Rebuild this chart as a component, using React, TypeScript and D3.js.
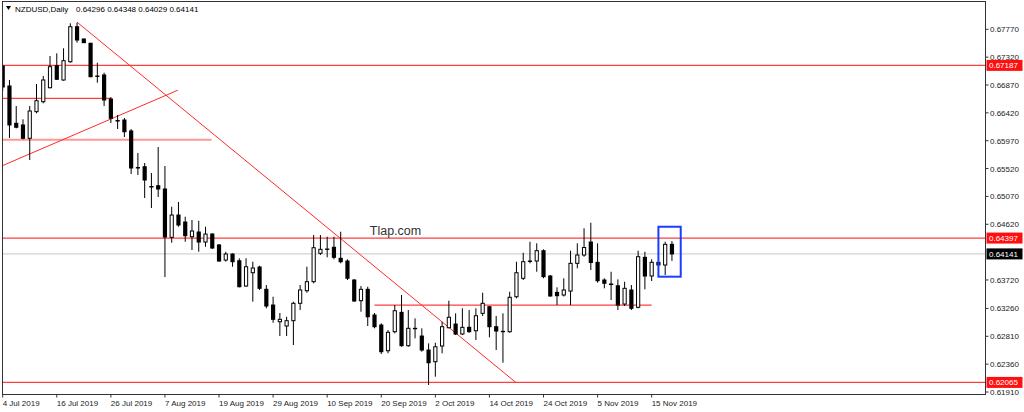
import React from "react";
import * as d3 from "d3";

// NZDUSD daily bars, 4 Jul 2019 .. 20 Nov 2019
const opens = [
  0.67177, 0.66854, 0.66251, 0.66224, 0.66009, 0.66439, 0.666, 0.66826, 0.67182, 0.66951,
  0.67246, 0.67812, 0.67613, 0.67544, 0.67015, 0.67032, 0.66644, 0.66296, 0.66304, 0.66127,
  0.65537, 0.6555, 0.6523, 0.65243, 0.6519, 0.64409, 0.64769, 0.64656, 0.64419, 0.64495,
  0.64333, 0.64462, 0.64285, 0.64042, 0.64139, 0.64031, 0.63622, 0.63837, 0.63929, 0.63569,
  0.63315, 0.63045, 0.62976, 0.63062, 0.63343, 0.63546, 0.63692, 0.64151, 0.6422, 0.64248,
  0.6407, 0.64026, 0.63719, 0.63385, 0.63569, 0.63154, 0.62992, 0.62577, 0.62884, 0.63197,
  0.62658, 0.62939, 0.62814, 0.62588, 0.62399, 0.62653, 0.62948, 0.63008, 0.62847, 0.62955,
  0.629, 0.63181, 0.63288, 0.62965, 0.6289, 0.62884, 0.63449, 0.63747, 0.64026, 0.64026,
  0.64193, 0.63784, 0.6352, 0.63477, 0.63541, 0.63989, 0.64123, 0.64333, 0.64005, 0.63719,
  0.63655, 0.63627, 0.63331, 0.63558, 0.63278, 0.64086, 0.63784, 0.64005, 0.63962, 0.64296,
];
const highs = [
  0.67193, 0.66951, 0.66531, 0.66316, 0.66531, 0.66886, 0.67015, 0.67339, 0.67382, 0.67463,
  0.67867, 0.67877, 0.67621, 0.67552, 0.6723, 0.67069, 0.66676, 0.66385, 0.66337, 0.66159,
  0.65771, 0.6561, 0.65448, 0.65868, 0.65561, 0.64904, 0.6498, 0.64742, 0.64689, 0.64677,
  0.6458, 0.64474, 0.64301, 0.64176, 0.64151, 0.6407, 0.6407, 0.64015, 0.6395, 0.63638,
  0.63449, 0.63186, 0.63126, 0.63369, 0.63638, 0.63934, 0.64446, 0.64446, 0.64419, 0.64419,
  0.645, 0.64054, 0.63735, 0.63622, 0.63611, 0.63186, 0.6302, 0.62911, 0.63315, 0.63477,
  0.63234, 0.631, 0.62939, 0.62696, 0.62706, 0.63045, 0.63385, 0.63181, 0.63262, 0.63234,
  0.63262, 0.63514, 0.63299, 0.63138, 0.63181, 0.6353, 0.64015, 0.6416, 0.64338, 0.64312,
  0.64215, 0.638, 0.63601, 0.63747, 0.64193, 0.64312, 0.64555, 0.64645, 0.64312, 0.63747,
  0.63853, 0.6373, 0.63692, 0.63638, 0.64193, 0.64176, 0.64054, 0.64015, 0.64338, 0.64348,
];
const lows = [
  0.66773, 0.66014, 0.6617, 0.65993, 0.65658, 0.66413, 0.66574, 0.66817, 0.66951, 0.66939,
  0.6723, 0.67554, 0.67549, 0.66995, 0.66907, 0.66531, 0.66256, 0.66159, 0.6603, 0.65432,
  0.65416, 0.65044, 0.64883, 0.6506, 0.63768, 0.64322, 0.6458, 0.64338, 0.64204, 0.64176,
  0.64257, 0.6422, 0.64015, 0.64015, 0.63934, 0.63601, 0.63611, 0.63369, 0.63558, 0.63262,
  0.63029, 0.62814, 0.62814, 0.62669, 0.63234, 0.63514, 0.63666, 0.64123, 0.64086, 0.64054,
  0.63989, 0.63719, 0.63369, 0.63207, 0.62976, 0.62939, 0.62524, 0.62535, 0.62858, 0.62641,
  0.62641, 0.62777, 0.62561, 0.62023, 0.62157, 0.62535, 0.62939, 0.6283, 0.6283, 0.62868,
  0.6275, 0.63138, 0.62793, 0.62588, 0.62383, 0.62868, 0.63424, 0.63719, 0.63989, 0.63853,
  0.63747, 0.63449, 0.63315, 0.63453, 0.63315, 0.63908, 0.64096, 0.63881, 0.63676, 0.63585,
  0.63396, 0.63234, 0.63299, 0.63234, 0.63262, 0.63569, 0.63703, 0.6395, 0.638, 0.64029,
];
const closes = [
  0.66838, 0.66224, 0.66187, 0.66009, 0.6645, 0.66616, 0.66951, 0.67166, 0.66962, 0.67263,
  0.67812, 0.67597, 0.67554, 0.67004, 0.67011, 0.66628, 0.66332, 0.66288, 0.66115, 0.65529,
  0.65529, 0.65335, 0.65222, 0.6519, 0.64414, 0.64769, 0.64608, 0.64435, 0.64511, 0.64333,
  0.64462, 0.64236, 0.64026, 0.64139, 0.64015, 0.63611, 0.63934, 0.63913, 0.63585, 0.63299,
  0.63084, 0.63084, 0.63062, 0.63343, 0.63558, 0.63692, 0.64241, 0.64215, 0.64215, 0.64086,
  0.64015, 0.63747, 0.6338, 0.63569, 0.63126, 0.62965, 0.62561, 0.62874, 0.63223, 0.62658,
  0.62939, 0.62932, 0.62588, 0.62383, 0.62641, 0.62965, 0.63117, 0.62847, 0.62955, 0.62884,
  0.63142, 0.63343, 0.62965, 0.62895, 0.62884, 0.6344, 0.63837, 0.64015, 0.64021, 0.64193,
  0.63773, 0.63461, 0.63466, 0.63558, 0.63989, 0.64123, 0.64244, 0.64002, 0.63708, 0.63666,
  0.63646, 0.63315, 0.63585, 0.63262, 0.64096, 0.63784, 0.64005, 0.63962, 0.64296, 0.64141,
];

// bottom axis labels (bar index -> label)
const dateTickBars = [0, 8, 16, 24, 32, 40, 48, 56, 64, 72, 80, 88, 96];
const dateTickLabels = [
  "4 Jul 2019", "16 Jul 2019", "26 Jul 2019", "7 Aug 2019", "19 Aug 2019", "29 Aug 2019",
  "10 Sep 2019", "20 Sep 2019", "2 Oct 2019", "14 Oct 2019", "24 Oct 2019", "5 Nov 2019", "15 Nov 2019",
];

// right price scale
const priceTicks = [
  0.6777, 0.6732, 0.6687, 0.6642, 0.6597, 0.6552, 0.6507, 0.6462, 0.6372, 0.6326, 0.6281, 0.6236, 0.6191,
];

// horizontal levels: price, from bar, to bar (null = full width)
const levelPrices = [0.67187, 0.66655, 0.65986, 0.64397, 0.63315, 0.62065];
const levelFrom = [null, -0.4, -0.4, null, 55, null];
const levelTo = [null, 16, 30.9, null, 96, null];
const labelledLevels = [0.67187, 0.64397, 0.62065];

// trend lines: [bar, price] endpoints
const downTrend = [[11, 0.67885], [75.9, 0.62065]];
const upTrend = [[-0.4, 0.6555], [25.9, 0.66786]];

// highlight box around last bars
const boxBars = [97, 100.3];
const boxPrices = [0.6458, 0.63773];

const lastPrice = 0.64141;

const W = 1024;
const H = 412;
const frame = { left: 2.5, top: 1.5, right: 985.5, bottom: 394.5 };

const App: React.FC = () => {
  const x = d3.scaleLinear().domain([0, 99]).range([2.7, 2.7 + 99 * 6.76]);
  const y = d3.scaleLinear().domain([0.6191, 0.6777]).range([392, 29.3]);

  const font = "'Liberation Sans', Arial, sans-serif";
  const fmt = d3.format(".5f");
  const red = "#ff2a2a";

  return (
    <div>
      <style>{`body{margin:0}`}</style>
      <svg width={W} height={H} style={{ display: "block", background: "#fff" }}>
        <defs>
          <clipPath id="plot">
            <rect
              x={frame.left}
              y={frame.top}
              width={frame.right - frame.left}
              height={frame.bottom - frame.top}
            />
          </clipPath>
        </defs>

        <g clipPath="url(#plot)">
          {/* last price line */}
          <line
            x1={frame.left}
            x2={frame.right}
            y1={y(lastPrice)}
            y2={y(lastPrice)}
            stroke="#c8c8c8"
            strokeWidth={1}
          />

          {/* horizontal levels */}
          {levelPrices.map((p, k) => (
            <line
              key={"lv" + k}
              x1={levelFrom[k] == null ? frame.left : x(levelFrom[k] as number)}
              x2={levelTo[k] == null ? frame.right : x(levelTo[k] as number)}
              y1={y(p)}
              y2={y(p)}
              stroke={k === 2 ? "#ff8c8c" : red}
              strokeWidth={k === 2 ? 2 : 1.2}
              opacity={0.9}
            />
          ))}

          {/* trend lines */}
          {[downTrend, upTrend].map((t, k) => (
            <line
              key={"tr" + k}
              x1={x(t[0][0])}
              y1={y(t[0][1])}
              x2={x(t[1][0])}
              y2={y(t[1][1])}
              stroke={red}
              strokeWidth={1}
            />
          ))}

          {/* candles */}
          {opens.map((o, i) => {
            const c = closes[i];
            const cx = x(i);
            const top = y(Math.max(o, c));
            const bot = y(Math.min(o, c));
            const bull = c >= o;
            return (
              <g key={"c" + i}>
                <line x1={cx} x2={cx} y1={y(highs[i])} y2={y(lows[i])} stroke="#000" strokeWidth={1} />
                {bull ? (
                  <rect
                    x={cx - 1.6}
                    y={top}
                    width={3.2}
                    height={Math.max(0.6, bot - top)}
                    fill="#fff"
                    stroke="#000"
                    strokeWidth={1}
                  />
                ) : (
                  <rect
                    x={cx - 2.1}
                    y={top - 0.5}
                    width={4.2}
                    height={Math.max(1.4, bot - top + 1)}
                    fill="#000"
                  />
                )}
              </g>
            );
          })}

          {/* highlight box */}
          <rect
            x={x(boxBars[0])}
            y={y(boxPrices[0])}
            width={x(boxBars[1]) - x(boxBars[0])}
            height={y(boxPrices[1]) - y(boxPrices[0])}
            fill="none"
            stroke="#1c3cff"
            strokeWidth={2}
          />

          <text x={x(54.3)} y={y(0.64446)} fontFamily={font} fontSize={12.5} fill="#333">
            Tlap.com
          </text>
        </g>

        {/* frame */}
        <rect
          x={frame.left}
          y={frame.top}
          width={frame.right - frame.left}
          height={frame.bottom - frame.top}
          fill="none"
          stroke="#333"
          strokeWidth={1}
        />

        {/* title */}
        <path d="M6,6 L11,6 L8.5,10 Z" fill="#000" />
        <text x={15} y={12} fontFamily={font} fontSize={8} fill="#000">
          NZDUSD,Daily
        </text>
        <text x={76} y={12} fontFamily={font} fontSize={8} fill="#000" xmlSpace="preserve">
          {[opens[99], highs[99], lows[99], closes[99]].map(fmt).join(" ")}
        </text>

        {/* price axis */}
        {priceTicks.map((p) => (
          <g key={"pt" + p}>
            <line x1={frame.right} x2={frame.right + 3} y1={y(p)} y2={y(p)} stroke="#333" />
            <text x={990} y={y(p) + 3} fontFamily={font} fontSize={8} fill="#222">
              {fmt(p)}
            </text>
          </g>
        ))}
        {labelledLevels.map((p) => (
          <g key={"lb" + p}>
            <rect x={986.5} y={y(p) - 5.5} width={36} height={11} fill="#ff1010" />
            <text x={989} y={y(p) + 3} fontFamily={font} fontSize={8} fill="#fff">
              {fmt(p)}
            </text>
          </g>
        ))}
        <rect x={986.5} y={y(lastPrice) - 5.5} width={36} height={11} fill="#000" />
        <text x={989} y={y(lastPrice) + 3} fontFamily={font} fontSize={8} fill="#fff">
          {fmt(lastPrice)}
        </text>

        {/* date axis */}
        {dateTickBars.map((b, k) => (
          <g key={"dt" + b}>
            <line x1={x(b)} x2={x(b)} y1={frame.bottom} y2={frame.bottom + 3} stroke="#333" />
            <text x={x(b)} y={406} fontFamily={font} fontSize={8} fill="#222">
              {dateTickLabels[k]}
            </text>
          </g>
        ))}
      </svg>
    </div>
  );
};

export default App;
